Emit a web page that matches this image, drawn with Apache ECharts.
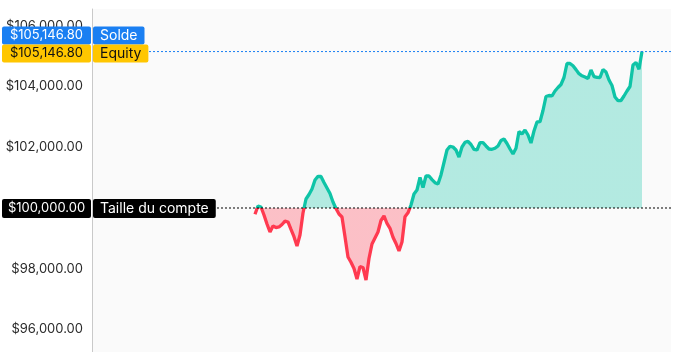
<!DOCTYPE html>
<html><head><meta charset="utf-8">
<script src="https://cdn.jsdelivr.net/npm/echarts@6/dist/echarts.min.js"></script>
<style>html,body{margin:0;padding:0;background:#fff}#c{width:682px;height:352px}</style>
</head><body><div id="c"></div>
<script>
// equity curve, evenly spaced observations
const equity = [
  99793,100066,100033,99770,99474,99210,99408,99358,99375,99457,
  99570,99540,99293,99056,98750,99112,99835,100296,100444,100625,
  100921,101043,101036,100839,100658,100477,100197,99984,99803,99704,
  99056,98388,98214,98010,97664,98069,98042,97631,98339,98816,
  99013,99210,99589,99737,99490,99332,99036,98832,98585,98881,
  99714,99842,100099,100461,100592,101003,100674,101053,101053,100934,
  100832,100790,101086,101497,101908,102030,102007,101908,101678,102007,
  102162,102194,102089,101928,101908,102148,102148,102040,101941,101931,
  101964,102040,102221,102270,102122,101941,101777,101964,102517,102435,
  102566,102402,102139,102533,102829,102839,103208,103668,103701,103685,
  103849,103964,104063,104293,104754,104754,104678,104553,104418,104349,
  104310,104261,104540,104323,104300,104293,104557,104474,104211,104030,
  103652,103533,103537,103685,103849,103997,104705,104787,104563,105146.80
];
const axisTicks = [96000, 98000, 102000, 104000, 106000];
const accountSize = 100000;
const balance = 105146.80;
const equityNow = 105146.80;
const labelBalance = 'Solde';
const labelEquity = 'Equity';
const labelAccount = 'Taille du compte';

const FONT = 'Inter, "Noto Sans", sans-serif';
const TEAL = '#0fc4a7', RED = '#ff3a50', BLUE = '#1a7ff2', GOLD = '#ffc600';
const TEAL_A = 'rgba(15,196,167,0.3)', RED_A = 'rgba(255,58,80,0.3)';
const fmt = v => '$' + Number(v).toLocaleString('en-US', {minimumFractionDigits: 2, maximumFractionDigits: 2});

const chart = echarts.init(document.getElementById('c'));
const GL = 92, GR = 11, GT = 9;
const YMIN = 95262, YMAX = 106547;
chart.setOption({
  animation: false,
  textStyle: {fontFamily: FONT},
  grid: {left: GL, right: GR, top: GT, bottom: 0, show: true, backgroundColor: '#fafafa', borderWidth: 0},
  xAxis: {type: 'value', min: -54.33, max: equity.length - 1 + 9.67, show: false},
  yAxis: {
    type: 'value', min: YMIN, max: YMAX,
    axisLine: {show: true, onZero: false, lineStyle: {color: '#c9c9c9', width: 1}},
    axisTick: {show: false}, splitLine: {show: false},
    axisLabel: {customValues: axisTicks, formatter: fmt, color: '#2a2a2a', fontSize: 13, margin: 9, fontFamily: FONT}
  },
  series: []
});

const W = chart.getWidth(), H = chart.getHeight();
const yB = chart.convertToPixel({yAxisIndex: 0}, balance);
const yE = chart.convertToPixel({yAxisIndex: 0}, equityNow);
const yA = chart.convertToPixel({yAxisIndex: 0}, accountSize);
const right = W - GR;
const f = yA / H;
const split = (c1, c2) => ({type: 'linear', x: 0, y: 0, x2: 0, y2: H, global: true,
  colorStops: [{offset: 0, color: c1}, {offset: f, color: c1}, {offset: f, color: c2}, {offset: 1, color: c2}]});

function valueBox(y, h, bg, fg, txt) {
  return [
    {type: 'rect', shape: {x: 2, y: y, width: GL - 3, height: h, r: 2}, style: {fill: bg}, z: 100},
    {type: 'text', x: (GL - 1 + 2) / 2, y: y + h / 2, style: {text: txt, fill: fg, font: '13px ' + FONT, align: 'center', verticalAlign: 'middle'}, z: 101}
  ];
}
function nameBox(y, h, bg, fg, txt) {
  return {type: 'text', x: GL + 1, y: y, z: 101,
    style: {text: txt, fill: fg, font: '14px ' + FONT, backgroundColor: bg, padding: [2, 7, 2, 7], borderRadius: 2,
      height: h - 4, lineHeight: h - 4, verticalAlign: 'top'}};
}
const g = [];
g.push({type: 'line', shape: {x1: GL + 1, y1: yE, x2: right, y2: yE}, style: {stroke: BLUE, lineWidth: 1, lineDash: [2, 2]}, z: 90});
g.push({type: 'line', shape: {x1: GL + 1, y1: yA, x2: right, y2: yA}, style: {stroke: '#000', lineWidth: 1, lineDash: [2, 2]}, z: 90});
g.push(...valueBox(yB - 25, 18, BLUE, '#fff', fmt(balance)));
g.push(nameBox(yB - 25, 18, BLUE, '#fff', labelBalance));
g.push(...valueBox(yE - 7, 18, GOLD, '#111', fmt(equityNow)));
g.push(nameBox(yE - 7, 18, GOLD, '#111', labelEquity));
g.push(...valueBox(yA - 9, 19, '#000', '#fff', fmt(accountSize)));
g.push(nameBox(yA - 9, 19, '#000', '#fff', labelAccount));

chart.setOption({
  graphic: g,
  series: [{
    type: 'line', data: equity.map((v, i) => [i, v]), showSymbol: false,
    lineStyle: {width: 3.3, color: split(TEAL, RED)},
    itemStyle: {color: TEAL},
    areaStyle: {origin: accountSize, color: split(TEAL_A, RED_A), opacity: 1}
  }]
});
</script></body></html>
